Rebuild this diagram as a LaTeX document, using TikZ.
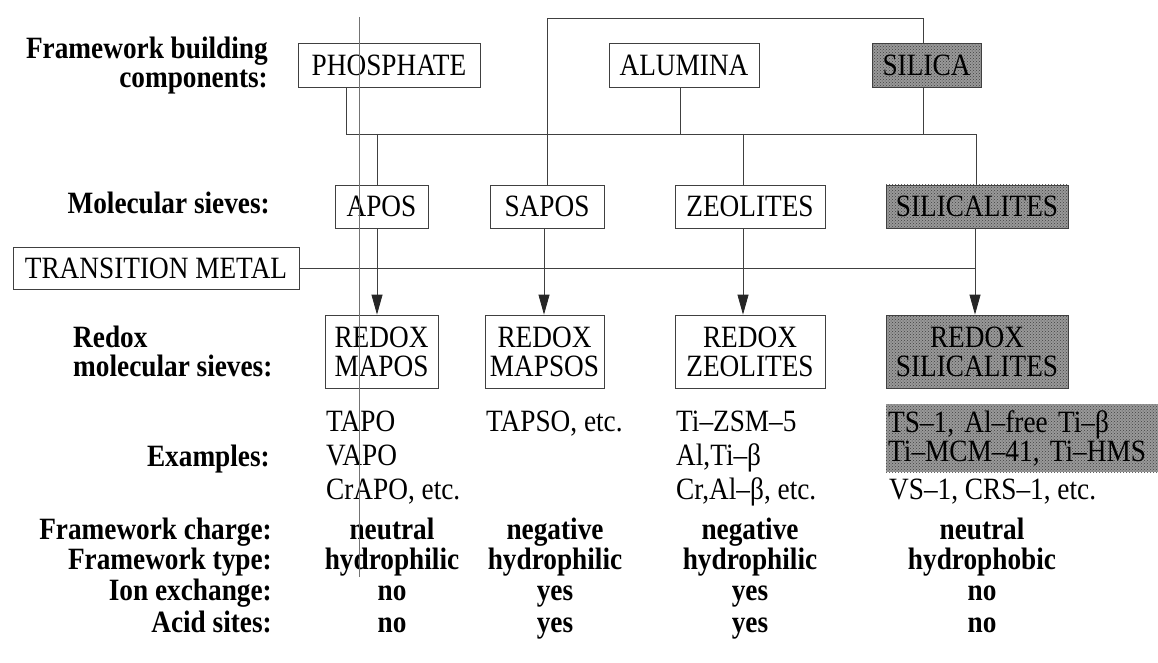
\documentclass[tikz,border=0pt]{standalone}
\usepackage{fontspec}
\setmainfont[FakeStretch=0.88]{Liberation Serif}
\usetikzlibrary{arrows.meta,patterns}
\begin{document}
\begin{tikzpicture}[x=1pt,y=-1pt,
  every node/.style={font=\fontsize{31}{29}\selectfont, inner sep=0pt},
  bx/.style={draw=black!75, line width=0.8pt},
  shd/.style={bx, preaction={fill=black!40}, pattern=crosshatch dots, pattern color=black!75},
  lbl/.style={font=\fontsize{31}{29}\selectfont\bfseries},
  ln/.style={draw=black!75, line width=0.8pt},
  arr/.style={ln, -{Triangle[width=11pt,length=20pt,fill=black!85,color=black!85]}},
]
\useasboundingbox (0,0) rectangle (1158,663);

% left labels
\node[lbl, anchor=base east] (fb1) at (268,59) {Framework building};
\node[lbl, anchor=base east] (fb2) at (268,88) {components:};
\node[lbl, anchor=base east] (ms) at (270,213) {Molecular sieves:};
\node[lbl, anchor=base west] (rd1) at (73,347) {Redox};
\node[lbl, anchor=base west] (rd2) at (73,376) {molecular sieves:};
\node[lbl, anchor=base east] (ex) at (270,466) {Examples:};

% row 1
\node[bx, minimum width=182, minimum height=44] (phos) at (389,65) {PHOSPHATE};
\node[bx, minimum width=150, minimum height=44] (alu) at (684,65) {ALUMINA};
\node[shd, minimum width=109, minimum height=44] (sil) at (926.5,65) {SILICA};

% row 2
\node[bx, minimum width=93, minimum height=43] (apos) at (381.5,206.5) {APOS};
\node[bx, minimum width=114, minimum height=43] (sapos) at (547,206.5) {SAPOS};
\node[bx, minimum width=150, minimum height=43] (zeo) at (750,206.5) {ZEOLITES};
\node[shd, minimum width=182, minimum height=43] (silc) at (977,206.5) {SILICALITES};
\node[bx, minimum width=286, minimum height=42] (tm) at (156,268) {TRANSITION METAL};

% row 3
\node[bx, minimum width=113, minimum height=73, align=center] (rmapos) at (381.5,351.5) {REDOX\\MAPOS};
\node[bx, minimum width=119, minimum height=73, align=center] (rmapso) at (544.5,351.5) {REDOX\\MAPSOS};
\node[bx, minimum width=150, minimum height=73, align=center] (rzeo) at (750,351.5) {REDOX\\ZEOLITES};
\node[shd, minimum width=182, minimum height=73, align=center] (rsil) at (977,351.5) {REDOX\\SILICALITES};

% examples
\node[anchor=base west] (e11) at (326,431) {TAPO};
\node[anchor=base west] (e12) at (326,465) {VAPO};
\node[anchor=base west] (e13) at (326,499) {CrAPO, etc.};
\node[anchor=base west] (e21) at (486,431) {TAPSO, etc.};
\node[anchor=base west] (e31) at (676,431) {Ti–ZSM–5};
\node[anchor=base west] (e32) at (676,465) {Al,Ti–β};
\node[anchor=base west] (e33) at (676,499) {Cr,Al–β, etc.};
\node[anchor=north west, minimum width=272, minimum height=68, text width=268, inner xsep=2pt, align=left,
      preaction={fill=black!40}, pattern=crosshatch dots, pattern color=black!75] (e41) at (886,404)
      {TS–1, Al–free Ti–β\\Ti–MCM–41, Ti–HMS};
\node[anchor=base west] (e43) at (889,499) {VS–1, CRS–1, etc.};

% bottom table
\node[lbl, anchor=base east] (p1) at (272,539) {Framework charge:};
\node[lbl, anchor=base east] (p2) at (272,569) {Framework type:};
\node[lbl, anchor=base east] (p3) at (272,600) {Ion exchange:};
\node[lbl, anchor=base east] (p4) at (272,632) {Acid sites:};
\node[lbl, anchor=base] (v11) at (392,539) {neutral};
\node[lbl, anchor=base] (v12) at (392,569) {hydrophilic};
\node[lbl, anchor=base] (v13) at (392,600) {no};
\node[lbl, anchor=base] (v14) at (392,632) {no};
\node[lbl, anchor=base] (v21) at (555,539) {negative};
\node[lbl, anchor=base] (v22) at (555,569) {hydrophilic};
\node[lbl, anchor=base] (v23) at (555,600) {yes};
\node[lbl, anchor=base] (v24) at (555,632) {yes};
\node[lbl, anchor=base] (v31) at (750,539) {negative};
\node[lbl, anchor=base] (v32) at (750,569) {hydrophilic};
\node[lbl, anchor=base] (v33) at (750,600) {yes};
\node[lbl, anchor=base] (v34) at (750,632) {yes};
\node[lbl, anchor=base] (v41) at (982,539) {neutral};
\node[lbl, anchor=base] (v42) at (982,569) {hydrophobic};
\node[lbl, anchor=base] (v43) at (982,600) {no};
\node[lbl, anchor=base] (v44) at (982,632) {no};

% connectors
\coordinate (tr) at (923.5,18);
\draw[ln] (sapos.north) |- (tr) -- (tr |- sil.north);
\coordinate (bl) at (346,134);
\coordinate (br) at (976,134);
\draw[ln] (phos.south -| bl) -- (bl) -- (br) -- (br |- silc.north);
\coordinate (ba) at (680,134);
\draw[ln] (ba |- alu.south) -- (ba);
\coordinate (bs) at (923.5,134);
\draw[ln] (bs |- sil.south) -- (bs);
\coordinate (b1) at (377,134);
\draw[ln] (b1) -- (b1 |- apos.north);
\coordinate (b3) at (743,134);
\draw[ln] (b3) -- (b3 |- zeo.north);
\draw[ln] (tm.east) -- (tm.east -| br);
\draw[arr] (apos.south -| b1) -- (rmapos.north -| b1);
\coordinate (x2) at (544,0);
\draw[arr] (sapos.south -| x2) -- (rmapso.north -| x2);
\draw[arr] (zeo.south -| b3) -- (rzeo.north -| b3);
\coordinate (x4) at (975,0);
\draw[arr] (silc.south -| x4) -- (rsil.north -| x4);

% scan line
\coordinate (sc1) at (359,17);
\coordinate (sc2) at (359,577);
\draw[draw=black!55, line width=0.7pt] (sc1) -- (sc2);
\end{tikzpicture}
\end{document}
